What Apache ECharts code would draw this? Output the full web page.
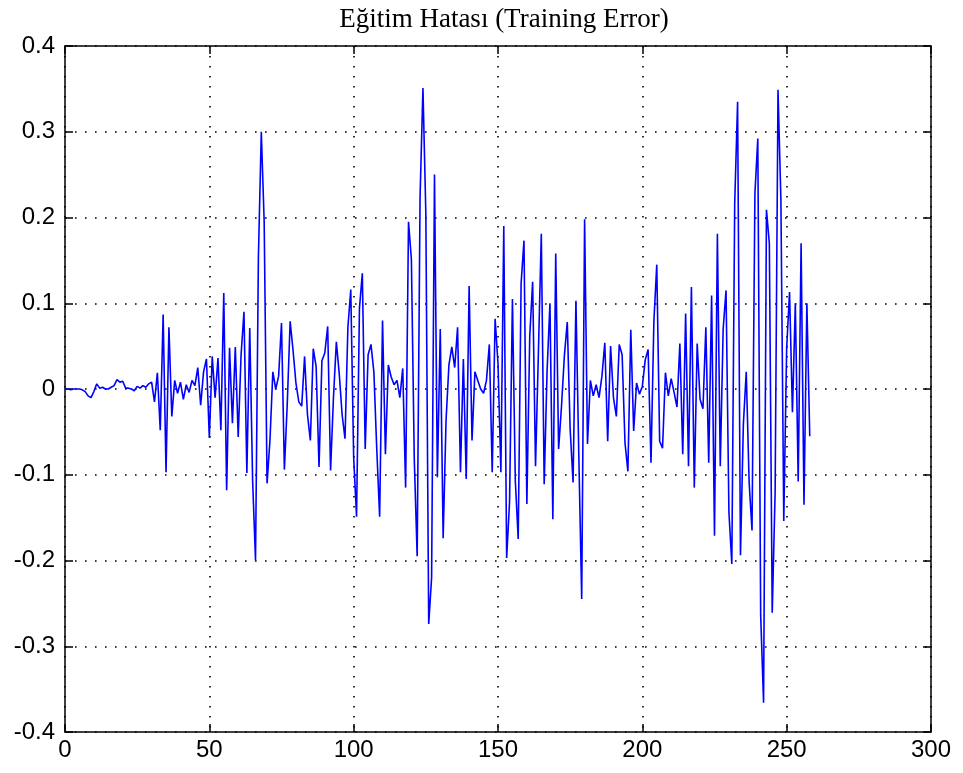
<!DOCTYPE html>
<html>
<head>
<meta charset="utf-8">
<script src="https://cdn.jsdelivr.net/npm/echarts@6/dist/echarts.min.js"></script>
<style>
html,body{margin:0;padding:0;background:#fff;}
#chart{width:963px;height:773px;}
</style>
</head>
<body>
<div id="chart"></div>
<script>
const titleText = 'Eğitim Hatası (Training Error)';
const xTicks = [0, 50, 100, 150, 200, 250, 300];
const yTicks = [-0.4, -0.3, -0.2, -0.1, 0, 0.1, 0.2, 0.3, 0.4];
const errorValues = [
  0, 0, -0.001, 0, 0, 0, -0.001, -0.003, -0.008, -0.01,
  -0.003, 0.006, 0.001, 0.002, 0, 0, 0.002, 0.004, 0.011, 0.008,
  0.009, 0.001, 0.001, 0, -0.002, 0.003, 0.001, 0.004, 0.002, 0.006,
  0.008, -0.015, 0.019, -0.048, 0.087, -0.097, 0.072, -0.032, 0.01, -0.005,
  0.008, -0.012, 0.005, -0.004, 0.01, 0.004, 0.025, -0.019, 0.02, 0.035,
  -0.057, 0.038, -0.01, 0.036, -0.048, 0.112, -0.118, 0.048, -0.04, 0.049,
  -0.056, 0.04, 0.09, -0.098, 0.071, -0.107, -0.2, 0.154, 0.3, 0.195,
  -0.11, -0.06, 0.02, 0.0, 0.015, 0.077, -0.094, -0.017, 0.079, 0.045,
  0.007, -0.015, -0.02, 0.038, -0.03, -0.06, 0.047, 0.026, -0.091, 0.033,
  0.042, 0.073, -0.095, -0.01, 0.055, 0.018, -0.03, -0.058, 0.072, 0.116,
  -0.08, -0.149, 0.094, 0.135, -0.07, 0.04, 0.052, 0.02, -0.07, -0.149,
  0.08, -0.076, 0.028, 0.014, 0.005, 0.01, -0.01, 0.024, -0.115, 0.195,
  0.151, -0.082, -0.195, 0.224, 0.351, 0.205, -0.274, -0.22, 0.25, -0.103,
  0.07, -0.174, -0.037, 0.028, 0.049, 0.025, 0.072, -0.097, 0.035, -0.105,
  0.12, -0.06, 0.02, 0.01, 0.0, -0.005, 0.01, 0.052, -0.097, 0.082,
  0.03, -0.097, 0.19, -0.197, -0.132, 0.105, -0.107, -0.175, 0.123, 0.173,
  -0.134, 0.062, 0.125, -0.09, 0.043, 0.181, -0.111, 0.021, 0.1, -0.152,
  0.158, -0.07, -0.02, 0.039, 0.078, -0.047, -0.109, 0.103, -0.078, -0.245,
  0.198, -0.064, 0.01, -0.008, 0.005, -0.01, 0.015, 0.054, -0.061, 0.05,
  -0.01, -0.032, 0.052, 0.04, -0.063, -0.096, 0.069, -0.049, 0.007, -0.006,
  0.003, 0.034, 0.046, -0.086, 0.079, 0.145, -0.061, -0.069, 0.019, -0.008,
  0.012, -0.004, -0.021, 0.053, -0.076, 0.088, -0.09, 0.119, -0.115, 0.053,
  -0.012, -0.023, 0.072, -0.086, 0.109, -0.171, 0.181, -0.09, 0.07, 0.115,
  -0.144, -0.204, 0.216, 0.335, -0.194, -0.041, 0.02, -0.109, -0.165, 0.228,
  0.292, -0.264, -0.366, 0.209, 0.17, -0.261, -0.121, 0.349, 0.221, -0.154,
  0.048, 0.113, -0.027, 0.1, -0.108, 0.17, -0.135, 0.1, -0.055
];

const seriesData = errorValues.map((v, i) => [i, v]);
const xMin = xTicks[0], xMax = xTicks[xTicks.length - 1], xStep = xTicks[1] - xTicks[0];
const yMin = yTicks[0], yMax = yTicks[yTicks.length - 1], yStep = 0.1;

const labelFont = { color: '#000', fontSize: 24, fontFamily: 'Liberation Sans, Arial, sans-serif' };
const gridDots = { show: true, lineStyle: { color: '#000', width: 1.6, type: [1.6, 8.4] } };
const boxLine = { show: true, onZero: false, lineStyle: { color: '#000', width: 1.5 } };
const tickIn = { show: true, inside: true, length: 8, lineStyle: { color: '#000', width: 1.5 } };

const chart = echarts.init(document.getElementById('chart'), null, { renderer: 'canvas' });
chart.setOption({
  animation: false,
  backgroundColor: '#fff',
  title: {
    text: titleText,
    left: 499, textAlign: 'center', top: 1,
    textStyle: { color: '#000', fontSize: 27, fontWeight: 'normal', fontFamily: 'Liberation Serif, Times New Roman, serif' }
  },
  grid: { left: 65, top: 46, right: 32, bottom: 41, containLabel: false, outerBoundsMode: 'none' },
  xAxis: [
    { type: 'value', position: 'bottom', min: xMin, max: xMax, interval: xStep,
      axisLine: boxLine, axisTick: tickIn, splitLine: gridDots,
      axisLabel: Object.assign({ margin: 6 }, labelFont) },
    { type: 'value', position: 'top', min: xMin, max: xMax, interval: xStep,
      axisLine: boxLine, axisTick: tickIn, splitLine: { show: false }, axisLabel: { show: false } }
  ],
  yAxis: [
    { type: 'value', position: 'left', min: yMin, max: yMax, interval: yStep,
      axisLine: boxLine, axisTick: tickIn, splitLine: gridDots,
      axisLabel: Object.assign({ margin: 10, formatter: v => String(Math.round(v * 10) / 10) }, labelFont) },
    { type: 'value', position: 'right', min: yMin, max: yMax, interval: yStep,
      axisLine: boxLine, axisTick: tickIn, splitLine: { show: false }, axisLabel: { show: false } }
  ],
  series: [{
    type: 'line', xAxisIndex: 0, yAxisIndex: 0,
    data: seriesData, showSymbol: false, symbol: 'none',
    lineStyle: { color: '#0000ff', width: 1.6 },
    silent: true
  }]
});
</script>
</body>
</html>
